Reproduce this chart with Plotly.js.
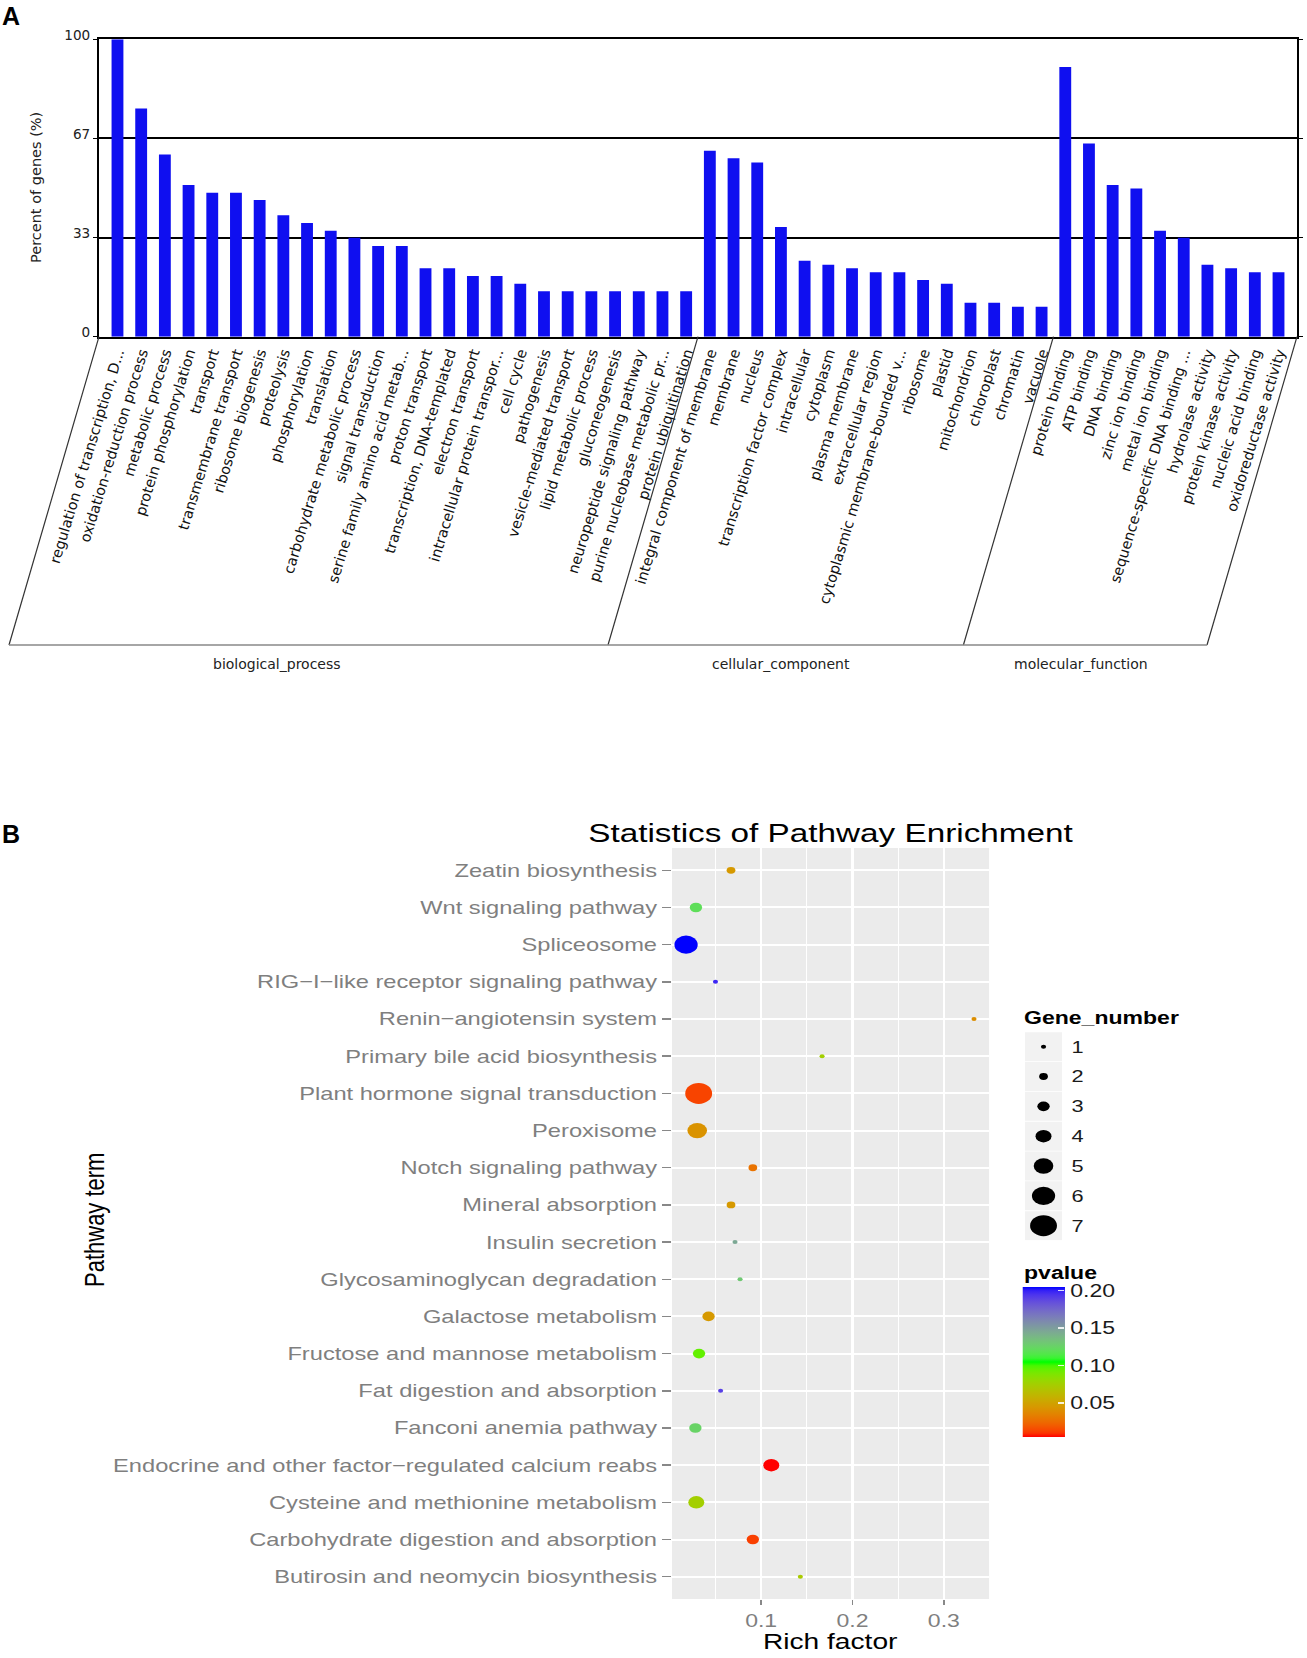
<!DOCTYPE html>
<html>
<head>
<meta charset="utf-8">
<script src="https://cdn.plot.ly/plotly-3.0.1.min.js"></script>
<style>
  html, body { margin:0; padding:0; background:#fff; }
  #wrap { position:relative; width:1307px; height:1658px; overflow:hidden; }
  #chartA { position:absolute; left:0; top:0; width:1307px; height:1658px; }
  #chartB { position:absolute; left:0; top:780px; width:1021px; height:878px;
            transform: scaleX(1.28); transform-origin: 0 0; }
</style>
</head>
<body>
<div id="wrap">
  <div id="chartA"></div>
  <div id="chartB"></div>
</div>
<script>
// ---------------- Panel A data (GO annotation) ----------------
const goTerms = [
  "regulation of transcription, D...", "oxidation-reduction process", "metabolic process",
  "protein phosphorylation", "transport", "transmembrane transport", "ribosome biogenesis",
  "proteolysis", "phosphorylation", "translation", "carbohydrate metabolic process",
  "signal transduction", "serine family amino acid metab...", "proton transport",
  "transcription, DNA-templated", "electron transport", "intracellular protein transpor...",
  "cell cycle", "pathogenesis", "vesicle-mediated transport", "lipid metabolic process",
  "gluconeogenesis", "neuropeptide signaling pathway", "purine nucleobase metabolic pr...",
  "protein ubiquitination",
  "integral component of membrane", "membrane", "nucleus", "transcription factor complex",
  "intracellular", "cytoplasm", "plasma membrane", "extracellular region",
  "cytoplasmic membrane-bounded v...", "ribosome", "plastid", "mitochondrion",
  "chloroplast", "chromatin", "vacuole",
  "protein binding", "ATP binding", "DNA binding", "zinc ion binding", "metal ion binding",
  "sequence-specific DNA binding ...", "hydrolase activity", "protein kinase activity",
  "nucleic acid binding", "oxidoreductase activity"
];
const goPercent = [
  100, 76.7, 61.3, 51.0, 48.4, 48.4, 46.0, 40.8, 38.2, 35.6, 33.3, 30.5, 30.5, 23.0, 23.0,
  20.4, 20.4, 17.8, 15.3, 15.3, 15.3, 15.3, 15.3, 15.3, 15.3,
  62.5, 60.0, 58.6, 36.9, 25.5, 24.2, 23.0, 21.7, 21.7, 19.1, 17.8, 11.4, 11.4, 10.1, 10.1,
  90.7, 65.0, 51.0, 49.8, 35.6, 33.3, 24.2, 23.0, 21.7, 21.7
];
const goGroups = ["biological_process", "cellular_component", "molecular_function"];
const goGroupSizes = [25, 15, 10];
const goTickVals = [0, 100/3, 200/3, 100];
const goTickText = ["0", "33", "67", "100"];

// ---------------- Panel B data (KEGG enrichment) ----------------
const pathwayTerms = [
  "Zeatin biosynthesis", "Wnt signaling pathway", "Spliceosome",
  "RIG\u2212I\u2212like receptor signaling pathway", "Renin\u2212angiotensin system",
  "Primary bile acid biosynthesis", "Plant hormone signal transduction", "Peroxisome",
  "Notch signaling pathway", "Mineral absorption", "Insulin secretion",
  "Glycosaminoglycan degradation", "Galactose metabolism", "Fructose and mannose metabolism",
  "Fat digestion and absorption", "Fanconi anemia pathway",
  "Endocrine and other factor\u2212regulated calcium reabs",
  "Cysteine and methionine metabolism", "Carbohydrate digestion and absorption",
  "Butirosin and neomycin biosynthesis"
];
const richFactor = [
  0.067, 0.0286, 0.0178, 0.050, 0.333, 0.1667, 0.0316, 0.030, 0.0909, 0.067,
  0.0714, 0.0769, 0.0424, 0.032, 0.0556, 0.028, 0.1111, 0.029, 0.0909, 0.1429
];
const geneNumber = [2, 3, 6, 1, 1, 1, 7, 5, 2, 2, 1, 1, 3, 3, 1, 3, 4, 4, 3, 1];
const pValue = [
  0.045, 0.120, 0.2045, 0.198, 0.040, 0.075, 0.013, 0.042, 0.028, 0.045,
  0.145, 0.130, 0.045, 0.095, 0.190, 0.125, 0.0044, 0.075, 0.012, 0.072
];
const sizeLegendValues = ["1", "2", "3", "4", "5", "6", "7"];
const pTickVals = [0.05, 0.10, 0.15, 0.20];
const pTickText = ["0.05", "0.10", "0.15", "0.20"];

// ---------------- helpers ----------------
function lin(c){ c/=255; return c<=0.04045 ? c/12.92 : Math.pow((c+0.055)/1.055, 2.4); }
function unlin(c){ c = c<=0.0031308 ? 12.92*c : 1.055*Math.pow(c,1/2.4)-0.055; return Math.round(Math.max(0,Math.min(1,c))*255); }
function rgb2lab(rgb){
  const R=lin(rgb[0]), G=lin(rgb[1]), B=lin(rgb[2]);
  const X=(0.4124*R+0.3576*G+0.1805*B)/0.95047, Y=(0.2126*R+0.7152*G+0.0722*B), Z=(0.0193*R+0.1192*G+0.9505*B)/1.08883;
  const f=t=> t>0.008856 ? Math.cbrt(t) : 7.787*t+16/116;
  const fx=f(X), fy=f(Y), fz=f(Z);
  return [116*fy-16, 500*(fx-fy), 200*(fy-fz)];
}
function lab2rgb(lab){
  const fy=(lab[0]+16)/116, fx=fy+lab[1]/500, fz=fy-lab[2]/200;
  const fi=t=> t>0.206893 ? t*t*t : (t-16/116)/7.787;
  const X=fi(fx)*0.95047, Y=fi(fy), Z=fi(fz)*1.08883;
  const R= 3.2406*X-1.5372*Y-0.4986*Z, G=-0.9689*X+1.8758*Y+0.0415*Z, B=0.0557*X-0.2040*Y+1.0570*Z;
  return 'rgb('+unlin(R)+','+unlin(G)+','+unlin(B)+')';
}
function labRamp(cols, n){
  const labs = cols.map(rgb2lab), out=[];
  for(let i=0;i<=n;i++){
    const t=i/n, seg=Math.min(labs.length-2, Math.floor(t*(labs.length-1)));
    const u=t*(labs.length-1)-seg, a=labs[seg], b=labs[seg+1];
    out.push([t, lab2rgb([a[0]+(b[0]-a[0])*u, a[1]+(b[1]-a[1])*u, a[2]+(b[2]-a[2])*u])]);
  }
  return out;
}
const pScale = labRamp([[255,0,0],[0,255,0],[0,0,255]], 40);
const sizeFor = g => 4 + 17*(g-1)/6;

// ---------------- Panel A ----------------
const WA=1307, HA=1658;
const PX = x => x/WA, PY = y => 1 - y/HA;
const axLeft = 99, axRight = 1297, axTop = 39.3, axBot = 336.7, lowY = 645;
const slantPx = -90;
const xLo = -0.78, xHi = goTerms.length - 1 + 0.78;
const catPx = c => axLeft + (c - xLo) * (axRight - axLeft) / (xHi - xLo);

const bounds = [xLo];
let acc = 0;
goGroupSizes.forEach(s => { acc += s; bounds.push(acc === goTerms.length ? xHi : acc - 0.5); });

const shapesA = bounds.map(b => ({
  type:'line', xref:'paper', yref:'paper', x0:PX(catPx(b)), x1:PX(catPx(b)+slantPx), y0:PY(axBot), y1:PY(lowY),
  line:{color:'#333', width:1.2}
}));
shapesA.push({type:'line', xref:'paper', yref:'paper', x0:PX(catPx(xLo)+slantPx), x1:PX(catPx(xHi)+slantPx),
  y0:PY(lowY), y1:PY(lowY), line:{color:'#888', width:1.6}});

const groupLabelX = [277, 781, 1081];
const annA = goGroups.map((g,i) => ({
  text:g, xref:'paper', yref:'paper', x:PX(groupLabelX[i]), y:PY(664), showarrow:false,
  xanchor:'center', yanchor:'middle', font:{family:'DejaVu Sans', size:14, color:'#222'}
}));
annA.push({text:'Percent of genes (%)', xref:'paper', yref:'paper', x:PX(36), y:PY(188), textangle:-90,
  showarrow:false, xanchor:'center', yanchor:'middle', font:{family:'DejaVu Sans', size:14.5, color:'#222'}});
annA.push({text:'<b>A</b>', xref:'paper', yref:'paper', x:0, y:PY(16), showarrow:false, xanchor:'left', yanchor:'middle',
  font:{family:'Liberation Sans', size:25, color:'#000'}});
annA.push({text:'<b>B</b>', xref:'paper', yref:'paper', x:0, y:PY(834), showarrow:false, xanchor:'left', yanchor:'middle',
  font:{family:'Liberation Sans', size:25, color:'#000'}});

Plotly.newPlot('chartA', [{
  type:'bar', x:goTerms, y:goPercent, width:0.5, marker:{color:'#0f0ff0', line:{width:0}}, hoverinfo:'x+y'
}], {
  width:WA, height:HA, margin:{l:0,r:0,t:0,b:0}, paper_bgcolor:'#fff', plot_bgcolor:'#fff', showlegend:false,
  font:{family:'DejaVu Sans', color:'#111'},
  xaxis:{domain:[PX(axLeft), PX(axRight)], type:'category', range:[xLo, xHi], tickangle:-73, dtick:1, tick0:0,
    tickfont:{family:'DejaVu Sans', size:14.5, color:'#111'}, showline:true, linecolor:'#000', linewidth:2,
    mirror:true, ticks:'', showgrid:false, zeroline:false, automargin:false},
  yaxis:{domain:[PY(axBot), PY(axTop)], range:[0,100], tickmode:'array', tickvals:goTickVals, ticktext:goTickText,
    showgrid:true, gridcolor:'#000', gridwidth:2, showline:true, linecolor:'#000', linewidth:2, mirror:'ticks',
    ticks:'outside', ticklen:4, tickwidth:1.5, tickcolor:'#000', zeroline:false, automargin:false,
    ticklabelshift:-4, tickfont:{family:'DejaVu Sans', size:13.6, color:'#222'}},
  shapes:shapesA, annotations:annA
}, {displayModeBar:false, staticPlot:true});

// ---------------- Panel B ----------------
const WB=1021, HB=878;
const QX = x => x/WB, QY = y => 1 - y/HB;
const pL=525, pR=772.7, pT=68, pB=819;
const pCenter = (pL+pR)/2;
const keyT = 251.8, keyB = 460.6;

const traceMain = {
  type:'scatter', mode:'markers', x:richFactor, y:pathwayTerms, xaxis:'x', yaxis:'y', opacity:1,
  marker:{size:geneNumber.map(sizeFor), color:pValue, colorscale:pScale, cmin:0.0044, cmax:0.2045,
    line:{width:0}, opacity:1, showscale:true,
    colorbar:{x:QX(799), xanchor:'left', y:QY(507), yanchor:'top', len:150, lenmode:'pixels', thickness:33,
      xpad:0, ypad:0, outlinewidth:0, tickmode:'array', tickvals:pTickVals, ticktext:pTickText,
      ticks:'inside', ticklen:5, tickwidth:1.5, tickcolor:'rgba(255,255,255,0.85)',
      tickfont:{family:'Liberation Sans', size:18, color:'#1a1a1a'}}},
  showlegend:false, hoverinfo:'x+y'
};
const traceKeys = {
  type:'scatter', mode:'markers', x:sizeLegendValues.map(()=>0.5), y:sizeLegendValues, xaxis:'x3', yaxis:'y3',
  opacity:1, marker:{symbol:'square', size:29, color:'#f2f2f2', opacity:1, line:{width:0}},
  showlegend:false, hoverinfo:'skip'
};
const traceSizes = {
  type:'scatter', mode:'markers', x:sizeLegendValues.map(()=>0.5), y:sizeLegendValues, xaxis:'x3', yaxis:'y3',
  opacity:1, marker:{size:sizeLegendValues.map(v=>sizeFor(+v)), color:'#000000', opacity:1, line:{width:0}},
  showlegend:false, hoverinfo:'skip'
};

const fontB = 'Liberation Sans, Arial, sans-serif';
Plotly.newPlot('chartB', [traceKeys, traceSizes, traceMain], {
  width:WB, height:HB, margin:{l:0,r:0,t:0,b:0}, paper_bgcolor:'rgba(0,0,0,0)', plot_bgcolor:'rgba(0,0,0,0)',
  showlegend:false, font:{family:fontB, color:'#000'},
  title:{text:'Statistics of Pathway Enrichment', x:QX(pCenter), xanchor:'center', xref:'paper',
    y:QY(53), yanchor:'middle', yref:'paper', font:{family:fontB, size:26, color:'#000'}},
  xaxis:{domain:[QX(pL), QX(pR)], range:[0.0024, 0.3495], tickmode:'linear', tick0:0, dtick:0.1,
    showgrid:true, gridcolor:'#fff', gridwidth:2, zeroline:false, showline:false,
    ticks:'outside', ticklen:5, tickwidth:1.5, tickcolor:'#888',
    tickfont:{family:fontB, size:18, color:'#7f7f7f'},
    minor:{dtick:0.05, tick0:0, showgrid:true, gridcolor:'#fff', gridwidth:1, ticks:''}, automargin:false},
  yaxis:{domain:[QY(pB), QY(pT)], type:'category', categoryorder:'array', categoryarray:pathwayTerms,
    range:[pathwayTerms.length-1+0.6, -0.6], showgrid:true, gridcolor:'#fff', gridwidth:2, zeroline:false,
    showline:false, ticks:'outside', ticklen:7, tickwidth:1.5, tickcolor:'#888',
    tickfont:{family:fontB, size:18.5, color:'#7f7f7f'}, automargin:false},
  xaxis3:{domain:[QX(800.8), QX(829.7)], anchor:'y3', range:[0,1], visible:false, fixedrange:true},
  yaxis3:{domain:[QY(keyB), QY(keyT)], anchor:'x3', type:'category', categoryorder:'array',
    categoryarray:sizeLegendValues, range:[sizeLegendValues.length-0.5, -0.5], side:'right',
    showgrid:false, zeroline:false, showline:false, ticks:'outside', ticklen:3, tickcolor:'rgba(0,0,0,0)',
    tickfont:{family:fontB, size:17, color:'#1a1a1a'}, automargin:false},
  shapes:[{type:'rect', xref:'x domain', yref:'y domain', x0:0, x1:1, y0:0, y1:1,
    fillcolor:'#ebebeb', line:{width:0}, layer:'below'}],
  annotations:[
    {text:'Pathway term', xref:'paper', yref:'paper', x:QX(73), y:QY(440), textangle:-90, showarrow:false,
      xanchor:'center', yanchor:'middle', font:{family:fontB, size:22, color:'#000'}},
    {text:'Rich factor', xref:'paper', yref:'paper', x:QX(pCenter), y:QY(861), showarrow:false,
      xanchor:'center', yanchor:'middle', font:{family:fontB, size:22, color:'#000'}},
    {text:'<b>Gene_number</b>', xref:'paper', yref:'paper', x:QX(798), y:QY(238), showarrow:false,
      xanchor:'left', yanchor:'middle', font:{family:fontB, size:18, color:'#000'}},
    {text:'<b>pvalue</b>', xref:'paper', yref:'paper', x:QX(798), y:QY(493), showarrow:false,
      xanchor:'left', yanchor:'middle', font:{family:fontB, size:18, color:'#000'}}
  ]
}, {displayModeBar:false, staticPlot:true});
</script>
</body>
</html>
